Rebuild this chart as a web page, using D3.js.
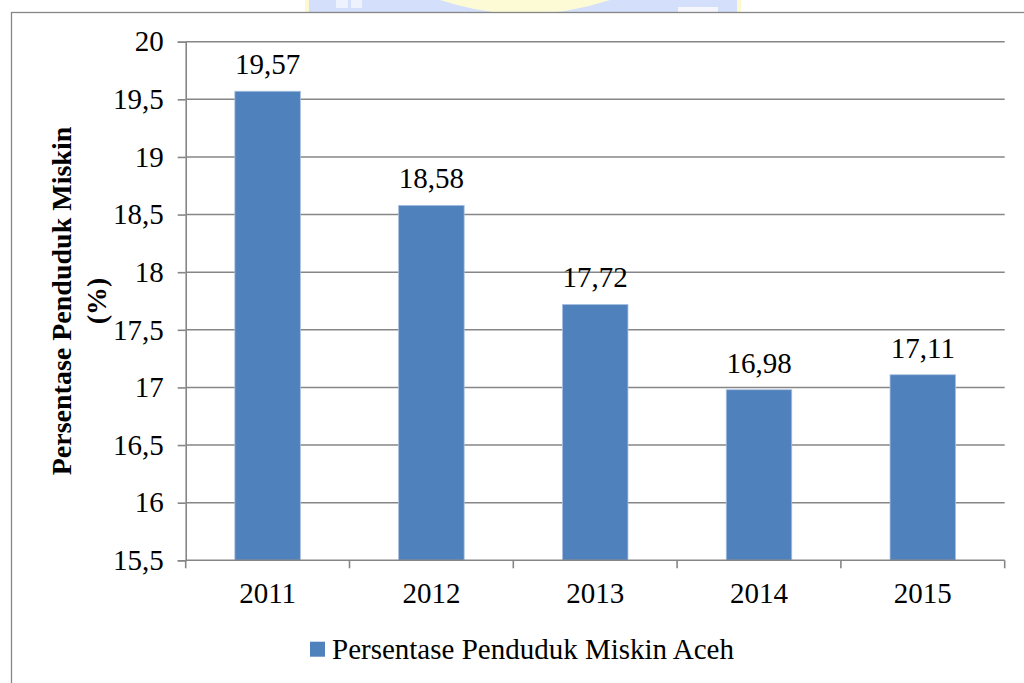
<!DOCTYPE html>
<html>
<head>
<meta charset="utf-8">
<script src="https://cdn.jsdelivr.net/npm/d3@7"></script>
<style>
  html, body { margin: 0; padding: 0; background: #fff; }
  svg { display: block; }
  text { font-family: "Liberation Serif", "Times New Roman", serif; fill: #000; }
</style>
</head>
<body>
<svg id="chart" width="1024" height="683"></svg>
<script>
const years = ["2011", "2012", "2013", "2014", "2015"];
const values = [19.57, 18.58, 17.72, 16.98, 17.11];
const valueLabels = ["19,57", "18,58", "17,72", "16,98", "17,11"];
const yTicks = [15.5, 16, 16.5, 17, 17.5, 18, 18.5, 19, 19.5, 20];
const seriesName = "Persentase Penduduk Miskin Aceh";
const yTitleLines = ["Persentase Penduduk Miskin", "(%)"];

const svg = d3.select("#chart");
const W = 1024, H = 683;
const plot = { left: 185.7, right: 1004.7, top: 41.7, bottom: 560.3 };
const gridColor = "#868686";
const barColor = "#4F81BD";
const fs = 29;
const fmt = v => String(v).replace(".", ",");

// faint watermark fragment at the very top
const wm = svg.append("g");
wm.append("rect").attr("x", 305).attr("y", 0).attr("width", 436).attr("height", 12).attr("fill", "#d3dffb");
wm.append("rect").attr("x", 305).attr("y", 0).attr("width", 4).attr("height", 12).attr("fill", "#fdf8cf");
wm.append("rect").attr("x", 737).attr("y", 0).attr("width", 4).attr("height", 12).attr("fill", "#fdf8cf");
wm.append("path").attr("d", "M440,0 Q525,28 610,0 Z").attr("fill", "#fdfbd6");
wm.append("rect").attr("x", 336).attr("y", 0).attr("width", 12).attr("height", 8).attr("fill", "#eef2fc");
wm.append("rect").attr("x", 351).attr("y", 0).attr("width", 11).attr("height", 8).attr("fill", "#eef2fc");
wm.append("rect").attr("x", 678).attr("y", 7).attr("width", 40).attr("height", 6).attr("fill", "#f4f6fc");

// chart area frame
svg.append("rect").attr("x", 11.5).attr("y", 12.5).attr("width", W + 20).attr("height", H + 20)
  .attr("fill", "#fff").attr("stroke", gridColor).attr("stroke-width", 1.3);

const x = d3.scaleBand().domain(years).range([plot.left, plot.right]).paddingInner(0.6).paddingOuter(0.3);
const y = d3.scaleLinear().domain([15.5, 20]).range([plot.bottom, plot.top]);

// gridlines
svg.append("g").selectAll("line").data(yTicks.filter(t => t > 15.5)).join("line")
  .attr("x1", plot.left).attr("x2", plot.right)
  .attr("y1", d => y(d)).attr("y2", d => y(d))
  .attr("stroke", gridColor).attr("stroke-width", 1.6);

// y axis
const yAxis = svg.append("g").attr("transform", `translate(${plot.left},0)`)
  .call(d3.axisLeft(y).tickValues(yTicks).tickSize(8).tickPadding(14).tickFormat(fmt));
yAxis.select(".domain").attr("stroke", gridColor).attr("stroke-width", 1.6);
yAxis.selectAll(".tick line").attr("stroke", gridColor).attr("stroke-width", 1.6);
yAxis.selectAll(".tick text").attr("font-size", fs).attr("font-family", "Liberation Serif").attr("fill", "#000");

// bars
svg.append("g").selectAll("rect").data(values).join("rect")
  .attr("x", (d, i) => x(years[i]))
  .attr("y", d => y(d))
  .attr("width", x.bandwidth())
  .attr("height", d => y(15.5) - y(d))
  .attr("fill", barColor)
  .attr("stroke", "#a9c0e0").attr("stroke-width", 0.8);

// x axis
const step = x.step();
const bounds = d3.range(years.length + 1).map(i => plot.left + i * step);
svg.append("line").attr("x1", plot.left).attr("x2", plot.right)
  .attr("y1", plot.bottom).attr("y2", plot.bottom)
  .attr("stroke", gridColor).attr("stroke-width", 1.6);
svg.append("g").selectAll("line").data(bounds).join("line")
  .attr("x1", d => d).attr("x2", d => d)
  .attr("y1", plot.bottom).attr("y2", plot.bottom + 8)
  .attr("stroke", gridColor).attr("stroke-width", 1.6);
svg.append("g").selectAll("text").data(years).join("text")
  .attr("x", d => x(d) + x.bandwidth() / 2)
  .attr("y", 603)
  .attr("text-anchor", "middle")
  .attr("font-size", fs)
  .text(d => d);

// data labels
svg.append("g").selectAll("text").data(values).join("text")
  .attr("x", (d, i) => x(years[i]) + x.bandwidth() / 2)
  .attr("y", d => y(d) - 17)
  .attr("text-anchor", "middle")
  .attr("font-size", fs)
  .text((d, i) => valueLabels[i]);

// y axis title
const yt = svg.append("text")
  .attr("transform", "translate(0,301) rotate(-90)")
  .attr("text-anchor", "middle")
  .attr("font-size", 28).attr("font-weight", "bold");
yt.selectAll("tspan").data(yTitleLines).join("tspan")
  .attr("x", 0).attr("y", (d, i) => 71 + i * 35)
  .text(d => d);

// legend
const lg = svg.append("g");
lg.append("rect").attr("x", 310).attr("y", 641.7).attr("width", 15).attr("height", 15).attr("fill", barColor);
lg.append("text").attr("x", 332).attr("y", 659).attr("font-size", fs).text(seriesName);
</script>
</body>
</html>
